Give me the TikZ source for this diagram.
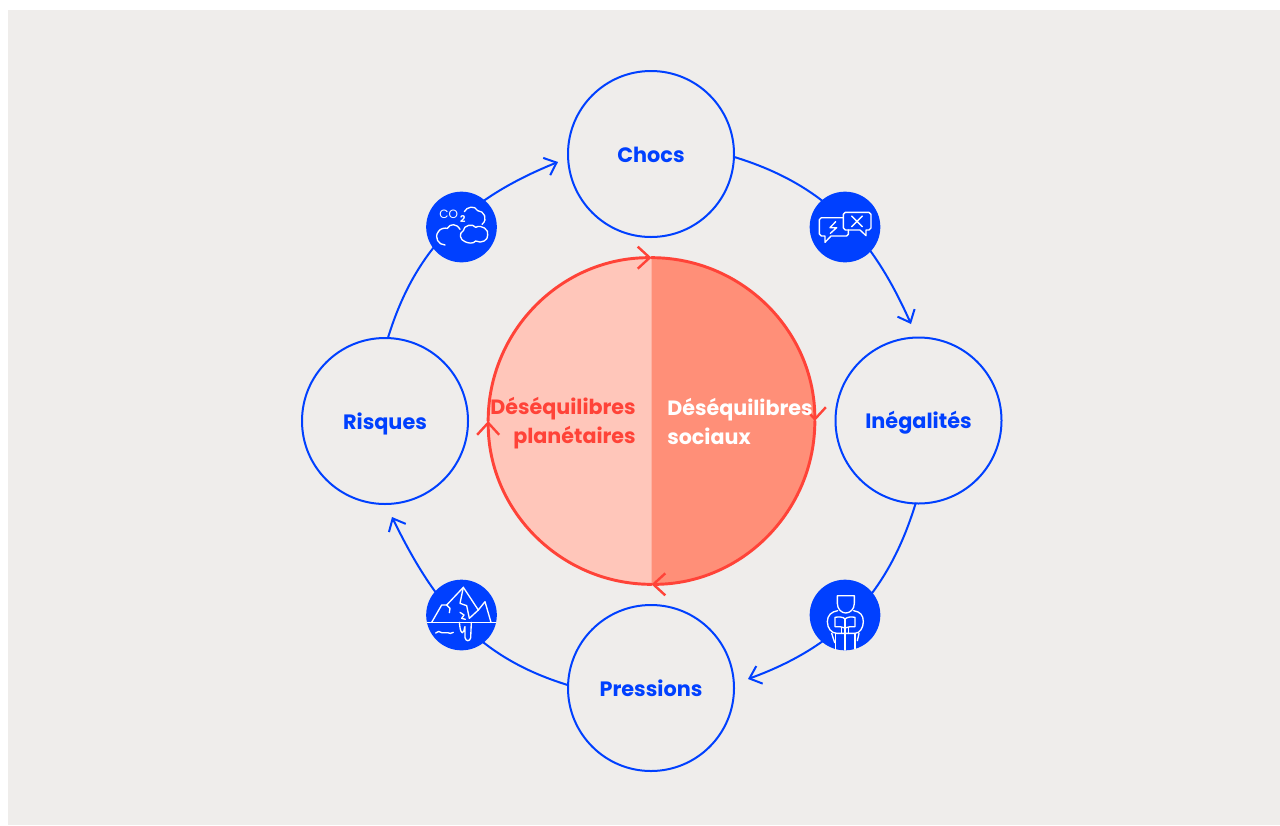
\documentclass[tikz,border=0pt]{standalone}
\usepackage{fontspec}
\setmainfont{Poppins}
\usetikzlibrary{arrows.meta}
\definecolor{bg}{HTML}{EFEDEB}
\definecolor{bluec}{HTML}{0040FF}
\definecolor{redc}{HTML}{FF4338}
\definecolor{lightc}{HTML}{FFC6BA}
\definecolor{darkc}{HTML}{FF8F78}
\tikzset{
  stage/.style={circle,draw=bluec,line width=1.5pt,fill=bg,minimum size=124.5pt,inner sep=0pt,outer sep=0pt,
    text=bluec,text height=12.6pt,text depth=0pt,font=\fontsize{15.6pt}{19pt}\selectfont\bfseries},
  flow/.style={draw=bluec,line width=1.5pt,line cap=round,-{Straight Barb[length=8pt,width=14pt,line width=1.5pt]}},
  core/.style={circle,minimum size=245pt,inner sep=0pt,outer sep=0pt},
  ring/.style={draw=redc,line width=2.2pt,line cap=round,-{Straight Barb[length=9pt,width=16.5pt,line width=1.8pt]}},
  badge/.style={circle,fill=bluec,minimum size=53pt,inner sep=0pt,outer sep=0pt},
  ico/.style={draw=white,line width=1pt,line cap=round,line join=round},
  lab/.style={font=\fontsize{15.5pt}{21.75pt}\selectfont\bfseries,inner sep=0pt},
  zoomed/.style={x=0.25pt,y=-0.25pt},
}
\begin{document}
\begin{tikzpicture}[x=0.75pt,y=-0.75pt]
\useasboundingbox (0,0) rectangle (1280,825);
\fill[white] (0,0) rectangle (1280,825);
\fill[bg] (8,10) rectangle (1280,825);

\node[stage] (chocs) at (651,154) {Chocs};
\node[stage] (ineg) at (918.5,420.5) {Inégalités};
\node[stage] (press) at (651,688) {Pressions};
\node[stage] (risq) at (385,421) {Risques};

\coordinate (t1) at (911,324);
\coordinate (t2) at (748,679);
\coordinate (t3) at (392,517);
\coordinate (t4) at (558,162);

\draw[flow] (chocs.-2) to[out=-17,in=114] (t1);
\draw[flow] (ineg.-92) to[out=-107,in=20] (t2);
\draw[flow] (press.178) to[out=163,in=-64] (t3);
\draw[flow] (risq.88) to[out=73,in=-158] (t4);

\node[badge] (b1) at (461.5,227) {};
\node[badge] (b2) at (845,227) {};
\node[badge] (b3) at (845,615) {};
\node[badge] (b4) at (461.5,615) {};

% CO2 icon
\begin{scope}[shift={(410,180)},zoomed]
\node[text=white,inner sep=0pt,font=\fontsize{9pt}{10pt}\selectfont] (co) at (116,104) {CO};
\node[text=white,inner sep=0pt,font=\fontsize{7pt}{8pt}\selectfont\bfseries] (two) at (158,116) {2};
\draw[ico] (163,95) .. controls (170,80) and (195,75) .. (203,92) .. controls (222,92) and (235,118) .. (216,133);
\draw[ico] (105,195) .. controls (85,195) and (72,172) .. (85,155) .. controls (90,145) and (105,143) .. (112,145) .. controls (120,130) and (140,130) .. (150,148);
\draw[ico] (165,185) .. controls (150,180) and (145,160) .. (160,152) .. controls (160,135) and (190,130) .. (197,142) .. controls (215,132) and (238,150) .. (233,165) .. controls (235,180) and (215,192) .. (197,183) .. controls (190,192) and (175,190) .. (165,185) -- cycle;
\end{scope}

% speech bubbles icon
\begin{scope}[shift={(795,180)},zoomed]
\draw[ico] (145,113) -- (79,113) -- (73,119) -- (73,162) -- (79,168) -- (90,168) -- (90,187) -- (108,168) -- (155,168) -- (160,163) -- (160,150);
\draw[ico] (151,97) -- (222,97) -- (228,103) -- (228,144) -- (222,150) -- (213,150) -- (213,167) -- (195,150) -- (151,150) -- (145,144) -- (145,103) -- cycle;
\draw[ico] (122,125) -- (105,143) -- (125,143) -- (106,160);
\draw[ico] (170,108) -- (202,140) (202,108) -- (170,140);
\end{scope}

% reader icon
\begin{scope}[shift={(795,570)},zoomed]
\draw[ico] (127,77) -- (178,77) -- (178,100) .. controls (178,118) and (165,129) .. (152,129) .. controls (140,129) and (127,118) .. (127,100) -- cycle;
\draw[ico] (128,122) .. controls (110,125) and (97,135) .. (97,155) .. controls (97,175) and (110,190) .. (125,190) -- (180,190) .. controls (195,190) and (205,172) .. (205,155) .. controls (205,135) and (195,125) .. (176,122);
\draw[ico] (120,142) .. controls (130,140) and (145,140) .. (150,147) .. controls (157,140) and (170,140) .. (180,142) -- (180,170) -- (165,170) -- (150,174) -- (135,170) -- (120,170) -- cycle;
\draw[ico] (150,147) -- (150,240);
\draw[ico] (140,172) -- (140,190) (160,172) -- (160,190);
\draw[ico] (122,190) -- (122,238) (180,190) -- (180,236);
\draw[ico] (110,190) -- (119,218) (192,190) -- (187,212);
\end{scope}

% iceberg icon
\begin{scope}[shift={(410,570)},zoomed]
\draw[ico] (52,157) -- (258,157);
\draw[ico] (65,157) -- (95,105) -- (110,105) -- (160,52) -- (205,120) -- (225,95) -- (243,157);
\draw[ico] (160,52) -- (150,100) -- (170,107) -- (178,145) -- (205,120);
\draw[ico] (110,105) -- (120,115) -- (118,128);
\draw[ico] (150,127) -- (162,135) -- (155,145) -- (166,148);
\draw[ico] (148,157) .. controls (150,170) and (150,185) .. (157,188) .. controls (165,185) and (162,170) .. (165,170) -- (165,203) .. controls (167,215) and (180,215) .. (182,203) -- (184,157);
\draw[ico] (77,189) .. controls (84,183) and (88,183) .. (95,188) .. controls (102,193) and (106,183) .. (113,188) .. controls (118,192) and (125,190) .. (130,187);
\end{scope}

% central disc
\node[core,fill=lightc] (disc) at (651.5,421) {};
\fill[darkc] (disc.north) arc[start angle=90,end angle=-90,radius=122.5pt] -- cycle;
\draw[ring] (disc.west) arc[start angle=180,end angle=90,radius=122.5pt];
\draw[ring] (disc.north) arc[start angle=90,end angle=0,radius=122.5pt];
\draw[ring] (disc.east) arc[start angle=0,end angle=-90,radius=122.5pt];
\draw[ring] (disc.south) arc[start angle=-90,end angle=-180,radius=122.5pt];

\node[lab,text=redc,align=right,anchor=east] (pl) at (636,423.5) {Déséquilibres\\planétaires};
\node[lab,text=white,align=left,anchor=west] (so) at (667,421) {Déséquilibres\\sociaux};
\end{tikzpicture}
\end{document}
